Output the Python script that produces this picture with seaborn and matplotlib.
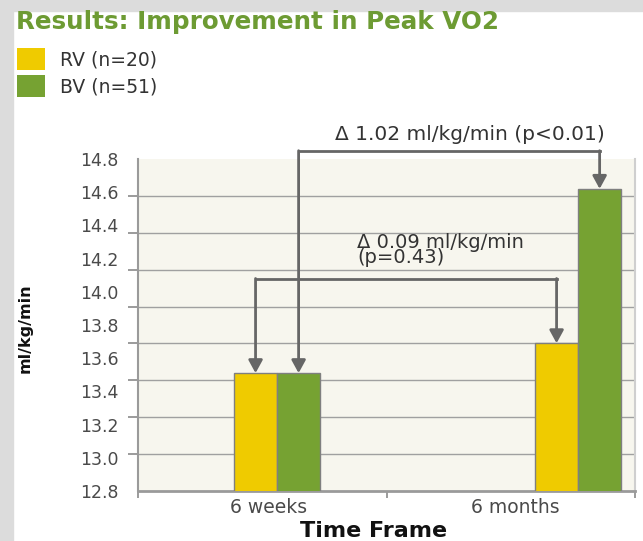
import numpy as np
import pandas as pd
import matplotlib
matplotlib.use('Agg')
import matplotlib.pyplot as plt
import seaborn as sns
from matplotlib.patches import Rectangle

# Data
timeframes = ['6 weeks', '6 months']
groups = ['RV (n=20)', 'BV (n=51)']
rv_values = [13.51, 13.69]
bv_values = [13.51, 14.62]
y_ticks = [12.8, 13.0, 13.2, 13.4, 13.6, 13.8, 14.0, 14.2, 14.4, 14.6, 14.8]
bv_delta_label = '\u0394 1.02 ml/kg/min (p<0.01)'
rv_delta_label = '\u0394 0.09 ml/kg/min\n(p=0.43)'

colors = {'RV (n=20)': '#EFCB00', 'BV (n=51)': '#76A232'}
ARROW = '#666666'
W, H = 643, 541

sns.set_style('white')
plt.rcParams['font.family'] = ['DejaVu Sans']

df = pd.DataFrame({
    'Time Frame': timeframes * 2,
    'group': [groups[0]] * len(timeframes) + [groups[1]] * len(timeframes),
    'value': rv_values + bv_values,
})

fig = plt.figure(figsize=(W / 100, H / 100), dpi=100)
fig.patch.set_facecolor('white')
# grey page border (left and top)
fig.patches.append(Rectangle((0, 0), 13 / W, 1, transform=fig.transFigure,
                             color='#DCDCDC', zorder=0))
fig.patches.append(Rectangle((0, 1 - 11 / H), 1, 11 / H, transform=fig.transFigure,
                             color='#DCDCDC', zorder=0))

ax = fig.add_axes([138 / W, 50 / H, 497 / W, 332 / H])
ax.set_facecolor('#F7F6EE')

sns.barplot(data=df, x='Time Frame', y='value', hue='group', palette=colors,
            saturation=1, width=0.286, edgecolor='#7f7f7f', linewidth=1,
            errorbar=None, ax=ax, zorder=3)

ax.set_ylim(12.8, 14.8)
ax.set_xlim(-0.462, 1.189)

# y axis: labels on 0.2 steps, grid/tick marks on the original's own spacing
ax.set_yticks(y_ticks, labels=[f'{t:.1f}' for t in y_ticks])
ax.set_yticks(np.linspace(y_ticks[0], y_ticks[-1], 10), minor=True)
ax.tick_params(axis='y', which='major', length=0, pad=14, labelsize=12.5,
               labelcolor='#4a4a4a')
ax.tick_params(axis='y', which='minor', length=7.5, width=1.2, color='#8a8a8a',
               direction='out', left=True)
ax.yaxis.grid(True, which='minor', color='#a0a0a0', linewidth=1)
ax.yaxis.grid(False, which='major')
ax.set_axisbelow(True)

# x axis: category labels centred in halves, small marks at ends/middle
ax.set_xticks([-0.027, 0.791], labels=timeframes)
ax.set_xticks([ax.get_xlim()[0], 0.365, ax.get_xlim()[1]], minor=True)
ax.tick_params(axis='x', which='major', length=0, pad=5, labelsize=13.5,
               labelcolor='#4a4a4a')
ax.tick_params(axis='x', which='minor', length=5, width=1.2, color='#8a8a8a',
               direction='out', bottom=True)

ax.spines['top'].set_visible(False)
ax.spines['right'].set_color('#cfcfcf')
ax.spines['right'].set_linewidth(1.5)
ax.spines['left'].set_color('#9a9a9a')
ax.spines['left'].set_linewidth(1.5)
ax.spines['bottom'].set_color('#9a9a9a')
ax.spines['bottom'].set_linewidth(2)

ax.set_xlabel('Time Frame', fontsize=16, fontweight='bold', color='#111111')
ax.xaxis.label.set_va('center')
ax.xaxis.set_label_coords((374 - 138) / 497, (491 - 531) / 332)
ax.set_ylabel('ml/kg/min', fontsize=11.5, fontweight='bold', color='#111111')
ax.yaxis.label.set_va('center')
ax.yaxis.set_label_coords((25 - 138) / 497, (491 - 328) / 332)

# legend in the top-left corner of the page
sns.move_legend(ax, 'upper left', bbox_to_anchor=(17 / W, 1 - 48 / H),
                bbox_transform=fig.transFigure, frameon=False, title=None,
                borderpad=0, borderaxespad=0, fontsize=13.5,
                handlelength=1.5, handleheight=1.4, labelspacing=0.3,
                handletextpad=0.8)
for t in ax.get_legend().get_texts():
    t.set_color('#333333')
for h in ax.get_legend().legend_handles:
    h.set_edgecolor('none')

fig.text(16 / W, 1 - 22 / H, 'Results: Improvement in Peak VO2', ha='left',
         va='center', fontsize=17.7, fontweight='bold', color='#6D9B33')


def bracket(bar_a, bar_b, y_level):
    """Elbow connector from bar_a top up to y_level, across, and down to bar_b."""
    xa = bar_a.get_x() + bar_a.get_width() / 2
    xb = bar_b.get_x() + bar_b.get_width() / 2
    ax.plot([xa, xb], [y_level, y_level], color=ARROW, lw=2,
            solid_capstyle='projecting', clip_on=False, zorder=5)
    for x, top in [(xa, bar_a.get_height()), (xb, bar_b.get_height())]:
        ax.annotate('', xy=(x, top), xytext=(x, y_level),
                    arrowprops=dict(arrowstyle='-|>,head_length=0.55,head_width=0.3',
                                    color=ARROW, lw=2, shrinkA=0, shrinkB=0,
                                    mutation_scale=14),
                    annotation_clip=False, zorder=5)


rv_bars, bv_bars = ax.containers[0], ax.containers[1]
bracket(bv_bars[0], bv_bars[1], 14.85)
bracket(rv_bars[0], rv_bars[1], 14.08)

ax.text(0.641, 14.945, bv_delta_label, ha='center', va='center', fontsize=14.5,
        color='#333333', clip_on=False)
ax.text(0.266, 14.25, rv_delta_label, ha='left', va='center', fontsize=14,
        color='#333333', linespacing=0.72)

fig.savefig('out.png', dpi=100, facecolor='white')
